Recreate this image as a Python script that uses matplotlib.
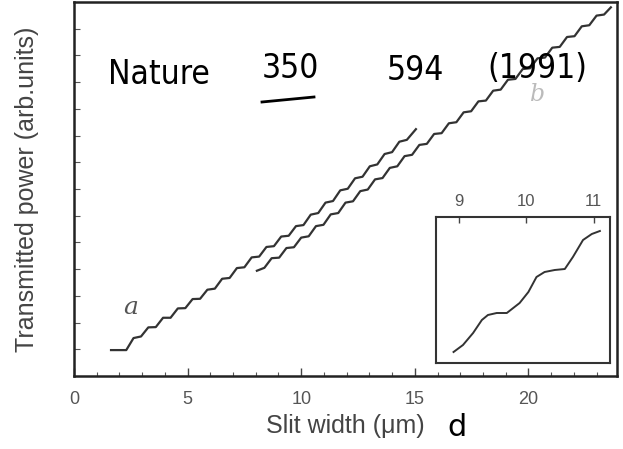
import numpy as np
import matplotlib
matplotlib.use('Agg')
import matplotlib.pyplot as plt
from matplotlib.lines import Line2D

# curve a: slit width in um, power in arb. units
a_x = [1.63, 2.30, 2.62, 2.95, 3.27, 3.60, 3.92, 4.25, 4.57, 4.90, 5.22, 5.55,
       5.87, 6.20, 6.52, 6.85, 7.17, 7.50, 7.82, 8.15, 8.47, 8.80, 9.12, 9.45,
       9.77, 10.10, 10.42, 10.75, 11.07, 11.40, 11.72, 12.05, 12.37, 12.70,
       13.02, 13.35, 13.67, 14.00, 14.32, 14.65, 15.05]
a_y = [0.97, 0.97, 1.42, 1.48, 1.82, 1.83, 2.18, 2.18, 2.53, 2.54, 2.88, 2.89,
       3.23, 3.27, 3.64, 3.67, 4.04, 4.07, 4.44, 4.47, 4.83, 4.86, 5.22, 5.25,
       5.61, 5.65, 6.04, 6.10, 6.49, 6.55, 6.95, 7.01, 7.40, 7.46,
       7.85, 7.92, 8.31, 8.38, 8.77, 8.84, 9.24]

# curve b
b_x = [8.05, 8.38, 8.70, 9.03, 9.35, 9.68, 10.00, 10.33, 10.65, 10.98, 11.30,
       11.63, 11.95, 12.28, 12.60, 12.93, 13.25, 13.58, 13.90, 14.23, 14.55,
       14.88, 15.20, 15.53, 15.85, 16.18, 16.50, 16.83, 17.15, 17.48, 17.80,
       18.13, 18.45, 18.78, 19.10, 19.43, 19.75, 20.08, 20.40, 20.73, 21.05,
       21.38, 21.70, 22.03, 22.35, 22.68, 23.00, 23.33, 23.63]
b_y = [3.94, 4.05, 4.41, 4.43, 4.79, 4.82, 5.18, 5.23, 5.61, 5.66, 6.05,
       6.10, 6.49, 6.54, 6.92, 6.98, 7.36, 7.41, 7.79, 7.85, 8.23,
       8.28, 8.65, 8.69, 9.06, 9.09, 9.46, 9.50, 9.87, 9.91, 10.28,
       10.31, 10.68, 10.72, 11.09, 11.12, 11.49, 11.52, 11.89, 11.92, 12.29,
       12.32, 12.69, 12.72, 13.09, 13.13, 13.49, 13.53, 13.80]

# inset (zoom of 9-11 um)
ins_x = [8.92, 9.06, 9.21, 9.34, 9.43, 9.56, 9.71, 9.90, 10.03, 10.15, 10.27,
         10.42, 10.57, 10.69, 10.84, 10.97, 11.09]
ins_y = [11, 18, 30, 43, 48, 50, 50, 60, 71, 86, 91, 93, 94, 106, 123, 129, 132]

x_major = [0, 5, 10, 15, 20]
ins_ticks = [9, 10, 11]

plt.rcParams['font.family'] = ['Liberation Sans', 'DejaVu Sans']

W, H = 623, 449
fig = plt.figure(figsize=(6.23, 4.49), dpi=100)
ax = fig.add_axes([74 / W, (H - 376) / H, 543 / W, 374 / H])

line_c = '#333333'
ax.plot(a_x, a_y, color=line_c, lw=1.6, solid_joinstyle='round')
ax.plot(b_x, b_y, color=line_c, lw=1.6, solid_joinstyle='round')

ax.set_xlim(0, 23.9)
ax.set_ylim(0, 14)
ax.set_xticks(x_major)
ax.set_xticks(range(1, 24), minor=True)
ax.set_yticks(range(1, 14))
ax.set_yticklabels([])
ax.tick_params(axis='x', which='major', direction='in', length=6, width=1,
               color='#444444', labelsize=13, labelcolor='#555555', pad=11)
ax.tick_params(axis='x', which='minor', direction='in', length=3, width=0.8,
               color='#555555')
ax.tick_params(axis='y', direction='in', length=4, width=0.8, color='#555555')
for s in ax.spines.values():
    s.set_linewidth(1.8)
    s.set_color('#222222')

ax.set_xlabel('Slit width (\u03bcm)', fontsize=18, color='#444444', labelpad=4)
ax.set_ylabel('Transmitted power (arb.units)', fontsize=18, color='#444444',
              labelpad=22)

ax.text(2.5, 2.55, 'a', fontsize=18, style='italic', family='DejaVu Serif',
        color='#555555', ha='center', va='center')
ax.text(20.4, 10.55, 'b', fontsize=17, style='italic', family='DejaVu Serif',
        color='#bbbbbb', ha='center', va='center')

# inset
ins = fig.add_axes([436 / W, (H - 363) / H, 174 / W, 146 / H])
ins.plot(ins_x, ins_y, color=line_c, lw=1.4)
ins.set_xlim(8.66, 11.24)
ins.set_ylim(0, 146)
ins.set_xticks(ins_ticks)
ins.set_yticks([])
ins.xaxis.tick_top()
ins.tick_params(axis='x', direction='in', length=4, width=1, color='#444444',
                labelsize=12, labelcolor='#555555', pad=6)
for s in ins.spines.values():
    s.set_linewidth(1.5)
    s.set_color('#333333')

# handwritten note
hw = dict(color='black', fontsize=24, family='DejaVu Sans',
          fontstretch='condensed', ha='center', va='center')
fig.text(159 / W, 1 - 74 / H, 'Nature', **hw)
fig.text(290 / W, 1 - 68 / H, '350', **hw)
fig.text(415 / W, 1 - 70 / H, '594', **hw)
fig.text(537 / W, 1 - 68 / H, '(1991)', **hw)
fig.add_artist(Line2D([262 / W, 314 / W], [1 - 102 / H, 1 - 97 / H],
                      color='black', lw=2))
fig.text(457 / W, 1 - 427 / H, 'd', color='black', fontsize=22,
         family='DejaVu Sans', ha='center', va='center')

fig.savefig('out.png', dpi=100)
